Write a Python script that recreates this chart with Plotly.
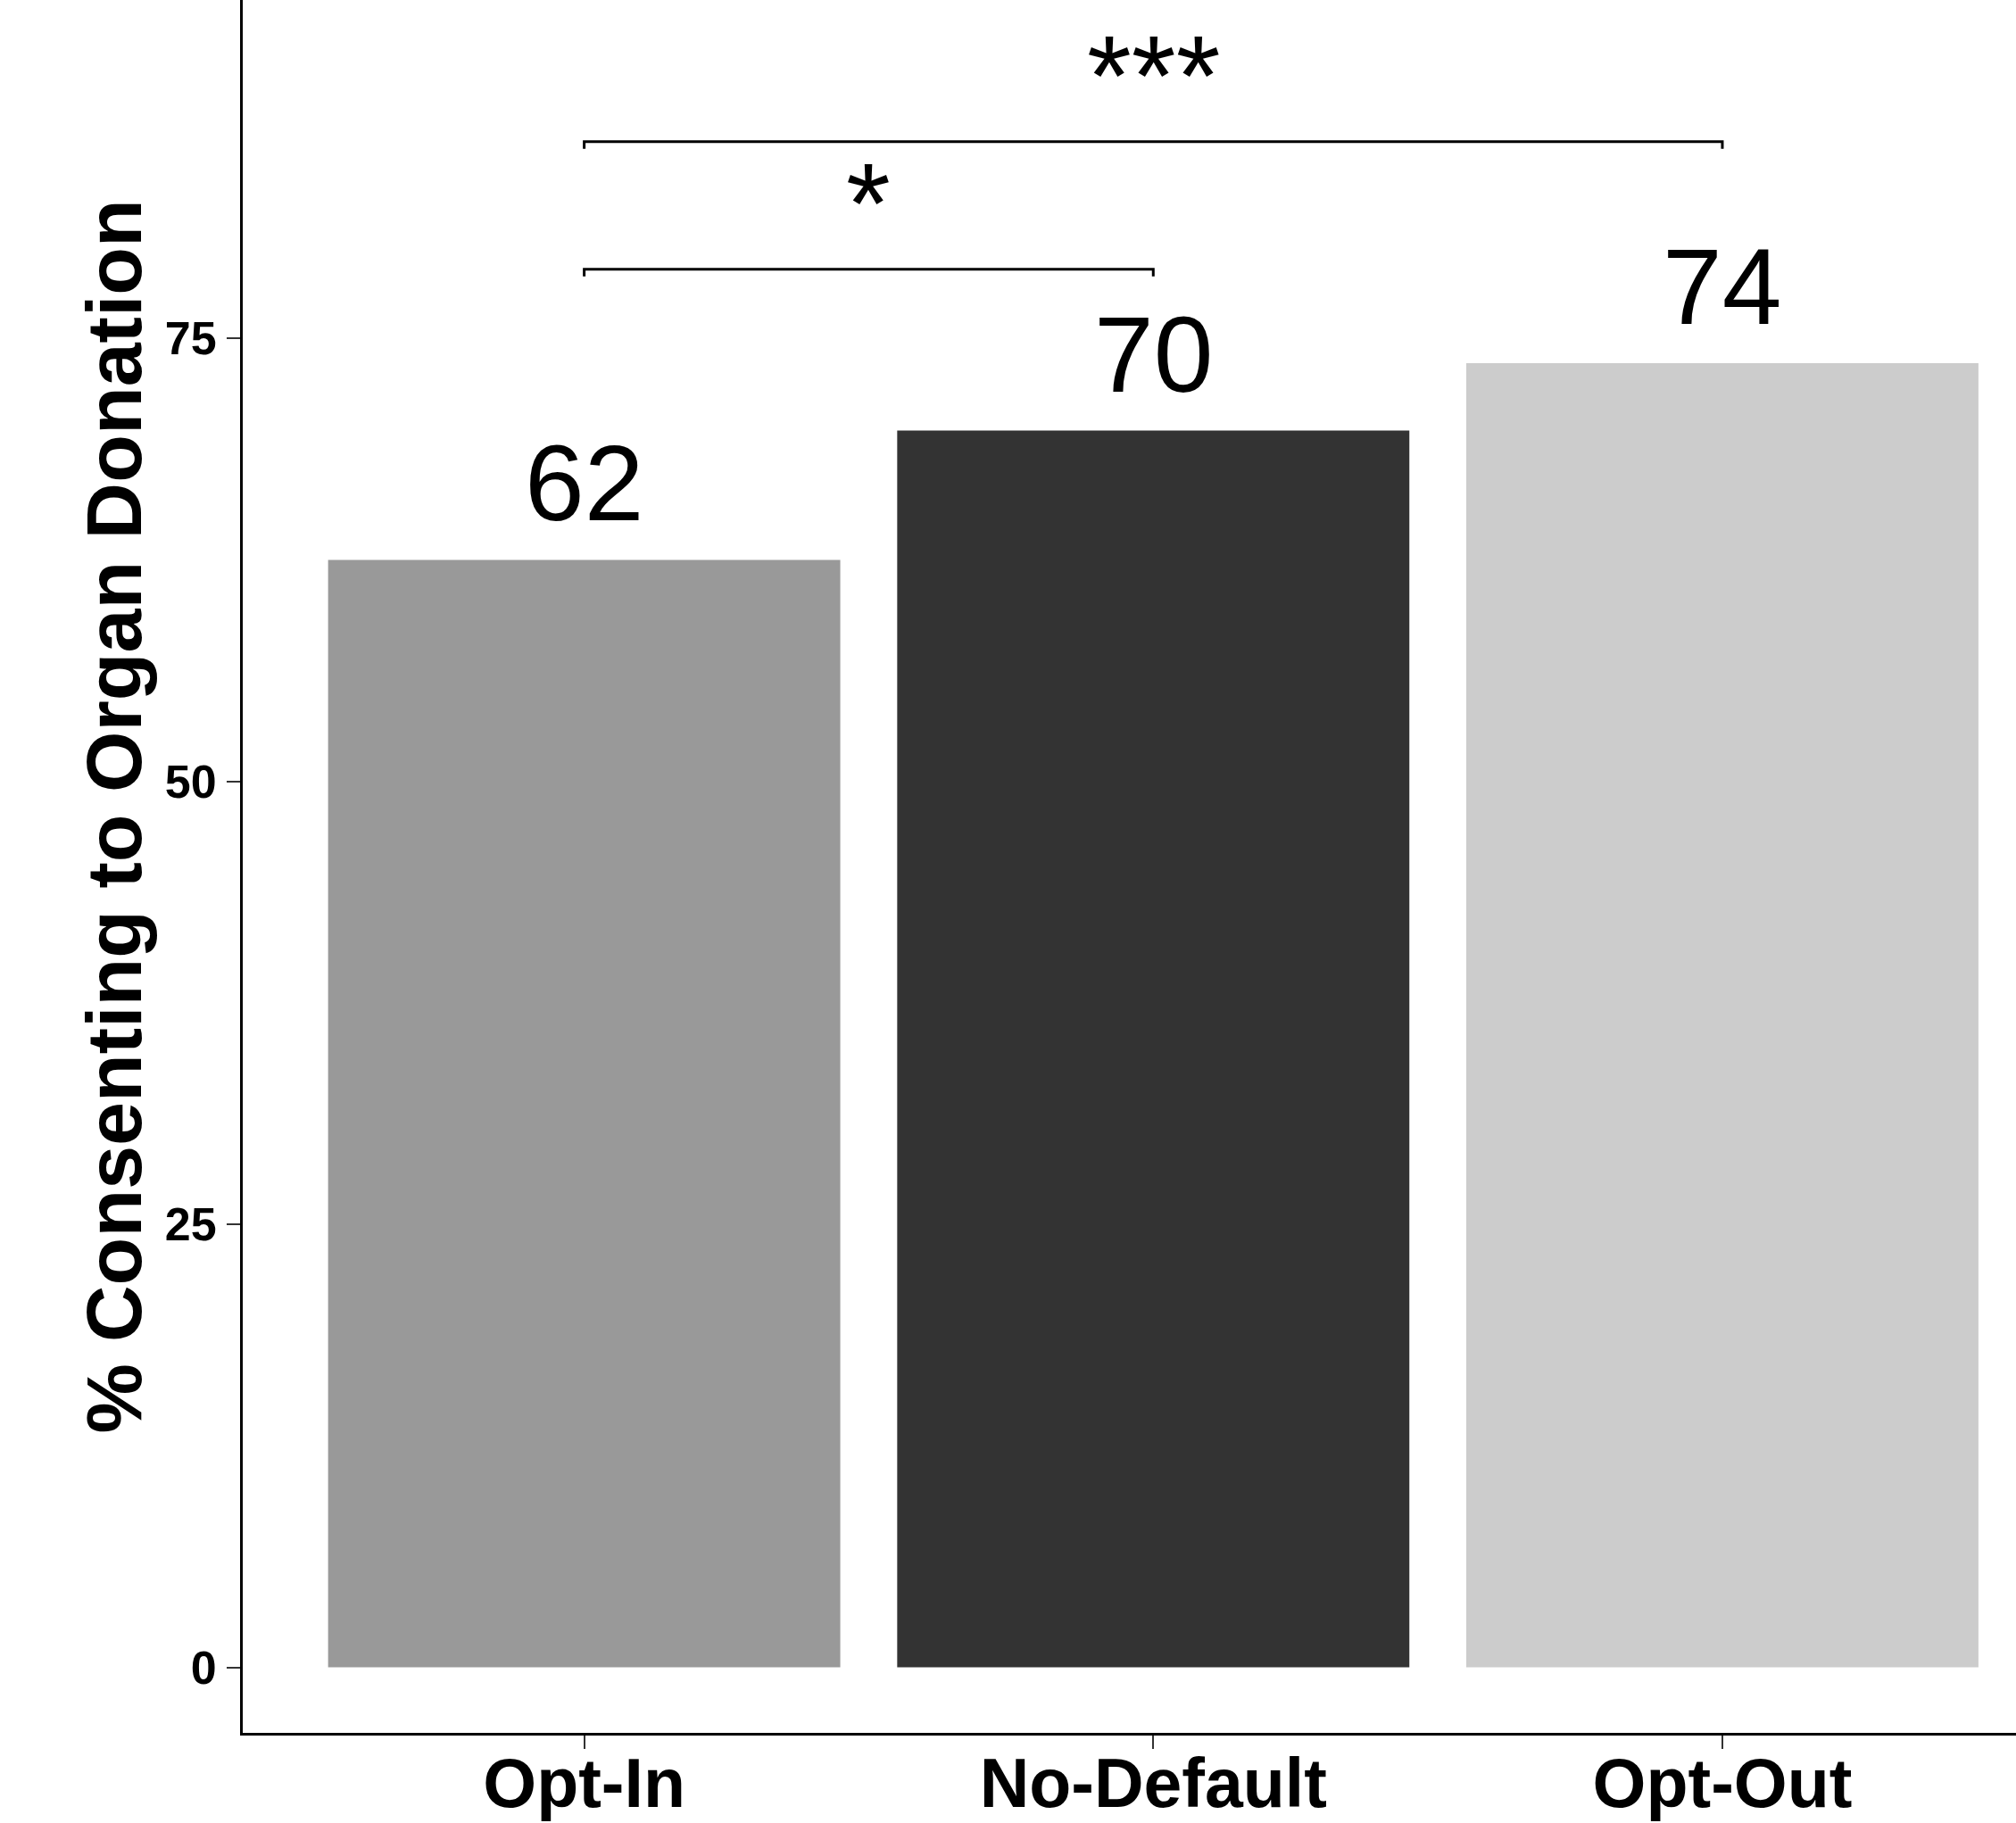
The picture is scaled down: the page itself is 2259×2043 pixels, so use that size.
import plotly.graph_objects as go

categories = ["Opt-In", "No-Default", "Opt-Out"]
values = [62.5, 69.8, 73.6]
value_labels = ["62", "70", "74"]
bar_colors = ["#999999", "#333333", "#CCCCCC"]
y_ticks = [0, 25, 50, 75]

# significance brackets: (start index, end index, y level, label)
bracket_start = [0, 0]
bracket_end = [1, 2]
bracket_y = [78.9, 86.1]
bracket_labels = ["*", "***"]
bracket_tick = 0.4

FONT = "Liberation Sans"
x_pos = list(range(len(categories)))

fig = go.Figure()
fig.add_trace(go.Bar(
    x=x_pos, y=values, width=0.9,
    marker=dict(color=bar_colors, line=dict(width=0)),
    showlegend=False, hoverinfo="skip",
))

for s, e, yv in zip(bracket_start, bracket_end, bracket_y):
    fig.add_trace(go.Scatter(
        x=[s, s, e, e], y=[yv - bracket_tick, yv, yv, yv - bracket_tick],
        mode="lines", line=dict(color="black", width=3),
        showlegend=False, hoverinfo="skip", cliponaxis=False,
    ))

annotations = []
for xi, v, lab in zip(x_pos, values, value_labels):
    annotations.append(dict(
        x=xi, y=v, xref="x", yref="y", text=lab, showarrow=False,
        yanchor="bottom", xanchor="center", yshift=17,
        font=dict(family=FONT, size=120, color="black"),
    ))
for s, e, yv, lab in zip(bracket_start, bracket_end, bracket_y, bracket_labels):
    annotations.append(dict(
        x=(s + e) / 2, y=yv, xref="x", yref="y", text=lab, showarrow=False,
        yanchor="bottom", xanchor="center", yshift=1,
        font=dict(family=FONT, size=128, color="black"),
    ))
# y-axis title
annotations.append(dict(
    x=-0.0725, y=0.529, xref="paper", yref="paper",
    text="% Consenting to Organ Donation", showarrow=False, textangle=-90,
    xanchor="center", yanchor="middle",
    font=dict(family=FONT, size=88, color="black", weight="bold"),
))

fig.update_layout(
    width=2259, height=2043,
    margin=dict(l=272, r=0, t=0, b=101, pad=0),
    paper_bgcolor="white", plot_bgcolor="white",
    annotations=annotations,
    xaxis=dict(
        range=[-0.6, 2.516], tickmode="array", tickvals=x_pos, ticktext=categories,
        showline=True, linecolor="black", linewidth=3,
        ticks="outside", ticklen=15, tickwidth=2, tickcolor="#333333",
        showgrid=False, zeroline=False, automargin=False,
        ticklabelstandoff=-27,
        tickfont=dict(family=FONT, size=77, color="black", weight="bold"),
    ),
    yaxis=dict(
        range=[-3.7, 94.1], tickmode="array", tickvals=y_ticks,
        showline=True, linecolor="black", linewidth=3,
        ticks="outside", ticklen=15, tickwidth=2, tickcolor="#333333",
        showgrid=False, zeroline=False, automargin=False,
        ticklabelstandoff=1,
        tickfont=dict(family=FONT, size=52, color="black", weight="bold"),
    ),
)

fig.write_html(
    "out.html",
    config={"displayModeBar": False},
    post_script="document.body.style.margin='0';document.body.style.overflow='hidden';",
)
